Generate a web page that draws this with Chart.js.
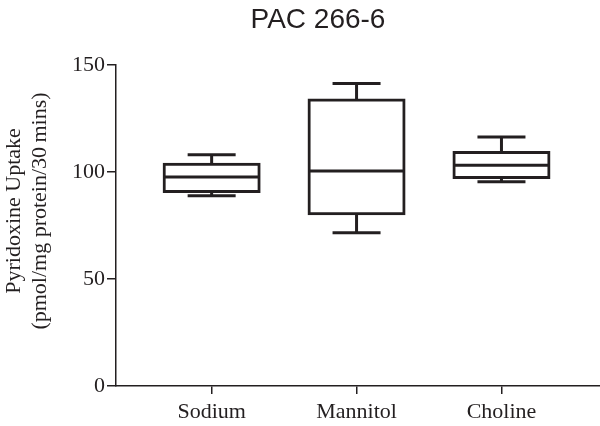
<!DOCTYPE html>
<html lang="en">
<head>
  <meta charset="UTF-8" />
  <title>PAC 266-6</title>
  <script src="https://cdn.jsdelivr.net/npm/chart.js"></script>
  <style>
    html, body { margin: 0; padding: 0; background: #fff; }
    #wrap { width: 600px; height: 426px; }
  </style>
</head>
<body>
  <div id="wrap"><canvas id="chart" width="600" height="426"></canvas></div>

  <script>
    // box plot values
    const categories = ["Sodium", "Mannitol", "Choline"];
    const minVals    = [88.9, 71.6, 95.5];
    const q1Vals     = [90.9, 80.5, 97.4];
    const medianVals = [97.7, 100.5, 103.1];
    const q3Vals     = [103.6, 133.6, 109.1];
    const maxVals    = [108.1, 141.4, 116.4];
    const yTicks     = [0, 50, 100, 150];

    const ink = "#231f20";
    const serif = '"Liberation Serif", "Times New Roman", serif';

    // whiskers, medians and the two titles
    const boxExtras = {
      id: "boxExtras",
      afterDatasetsDraw(chart) {
        const { ctx, scales: { x, y } } = chart;
        ctx.save();
        ctx.strokeStyle = ink;
        ctx.lineWidth = 3;
        ctx.lineCap = "butt";
        categories.forEach((_, i) => {
          const cx = x.getPixelForValue(i + 1);
          const half = 47.5, cap = 24;
          const line = (x1, y1, x2, y2) => {
            ctx.beginPath(); ctx.moveTo(x1, y1); ctx.lineTo(x2, y2); ctx.stroke();
          };
          // median
          line(cx - half, y.getPixelForValue(medianVals[i]), cx + half, y.getPixelForValue(medianVals[i]));
          // upper whisker
          line(cx, y.getPixelForValue(q3Vals[i]), cx, y.getPixelForValue(maxVals[i]));
          line(cx - cap, y.getPixelForValue(maxVals[i]), cx + cap, y.getPixelForValue(maxVals[i]));
          // lower whisker
          line(cx, y.getPixelForValue(q1Vals[i]), cx, y.getPixelForValue(minVals[i]));
          line(cx - cap, y.getPixelForValue(minVals[i]), cx + cap, y.getPixelForValue(minVals[i]));
        });
        ctx.restore();
      },
      afterDraw(chart) {
        const { ctx } = chart;
        ctx.save();
        ctx.fillStyle = ink;
        ctx.font = '28px "Liberation Sans", Arial, sans-serif';
        ctx.textAlign = "center";
        ctx.textBaseline = "alphabetic";
        ctx.fillText("PAC 266-6", 318, 28);

        ctx.translate(0, 211);
        ctx.rotate(-Math.PI / 2);
        ctx.font = "22px " + serif;
        ctx.fillText("Pyridoxine Uptake", 0, 20);
        ctx.fillText("(pmol/mg protein/30\u2009mins)", 0, 46);
        ctx.restore();
      }
    };

    new Chart(document.getElementById("chart"), {
      type: "bar",
      data: {
        datasets: [{
          data: categories.map((c, i) => ({ x: i + 1, y: [q1Vals[i], q3Vals[i]] })),
          backgroundColor: "#ffffff",
          borderColor: ink,
          borderWidth: 3,
          borderSkipped: false,
          inflateAmount: 1.5,
          barThickness: 95
        }]
      },
      options: {
        responsive: false,
        animation: false,
        layout: { padding: { top: 65, right: 0, bottom: 0, left: 0 } },
        plugins: { legend: { display: false }, tooltip: { enabled: false }, title: { display: false } },
        scales: {
          x: {
            type: "linear",
            offset: false,
            min: 0.34,
            max: 3.68,
            afterBuildTicks: s => { s.ticks = categories.map((_, i) => ({ value: i + 1 })); },
            afterFit: s => { s.height = 40; },
            ticks: {
              callback: v => categories[v - 1] || "",
              color: ink,
              font: { family: serif, size: 22 },
              padding: 5,
              maxRotation: 0,
              autoSkip: false
            },
            grid: { offset: false, drawOnChartArea: false, drawTicks: true, tickLength: 8, color: ink, lineWidth: 1.5 },
            border: { display: true, color: ink, width: 1.5 }
          },
          y: {
            min: 0,
            max: 150,
            afterBuildTicks: s => { s.ticks = yTicks.map(v => ({ value: v })); },
            afterFit: s => { s.width = 116; },
            ticks: {
              color: ink,
              font: { family: serif, size: 22 },
              padding: 2
            },
            grid: { drawOnChartArea: false, drawTicks: true, tickLength: 9, color: ink, lineWidth: 1.5 },
            border: { display: true, color: ink, width: 1.5 }
          }
        }
      },
      plugins: [boxExtras]
    });
  </script>
</body>
</html>
